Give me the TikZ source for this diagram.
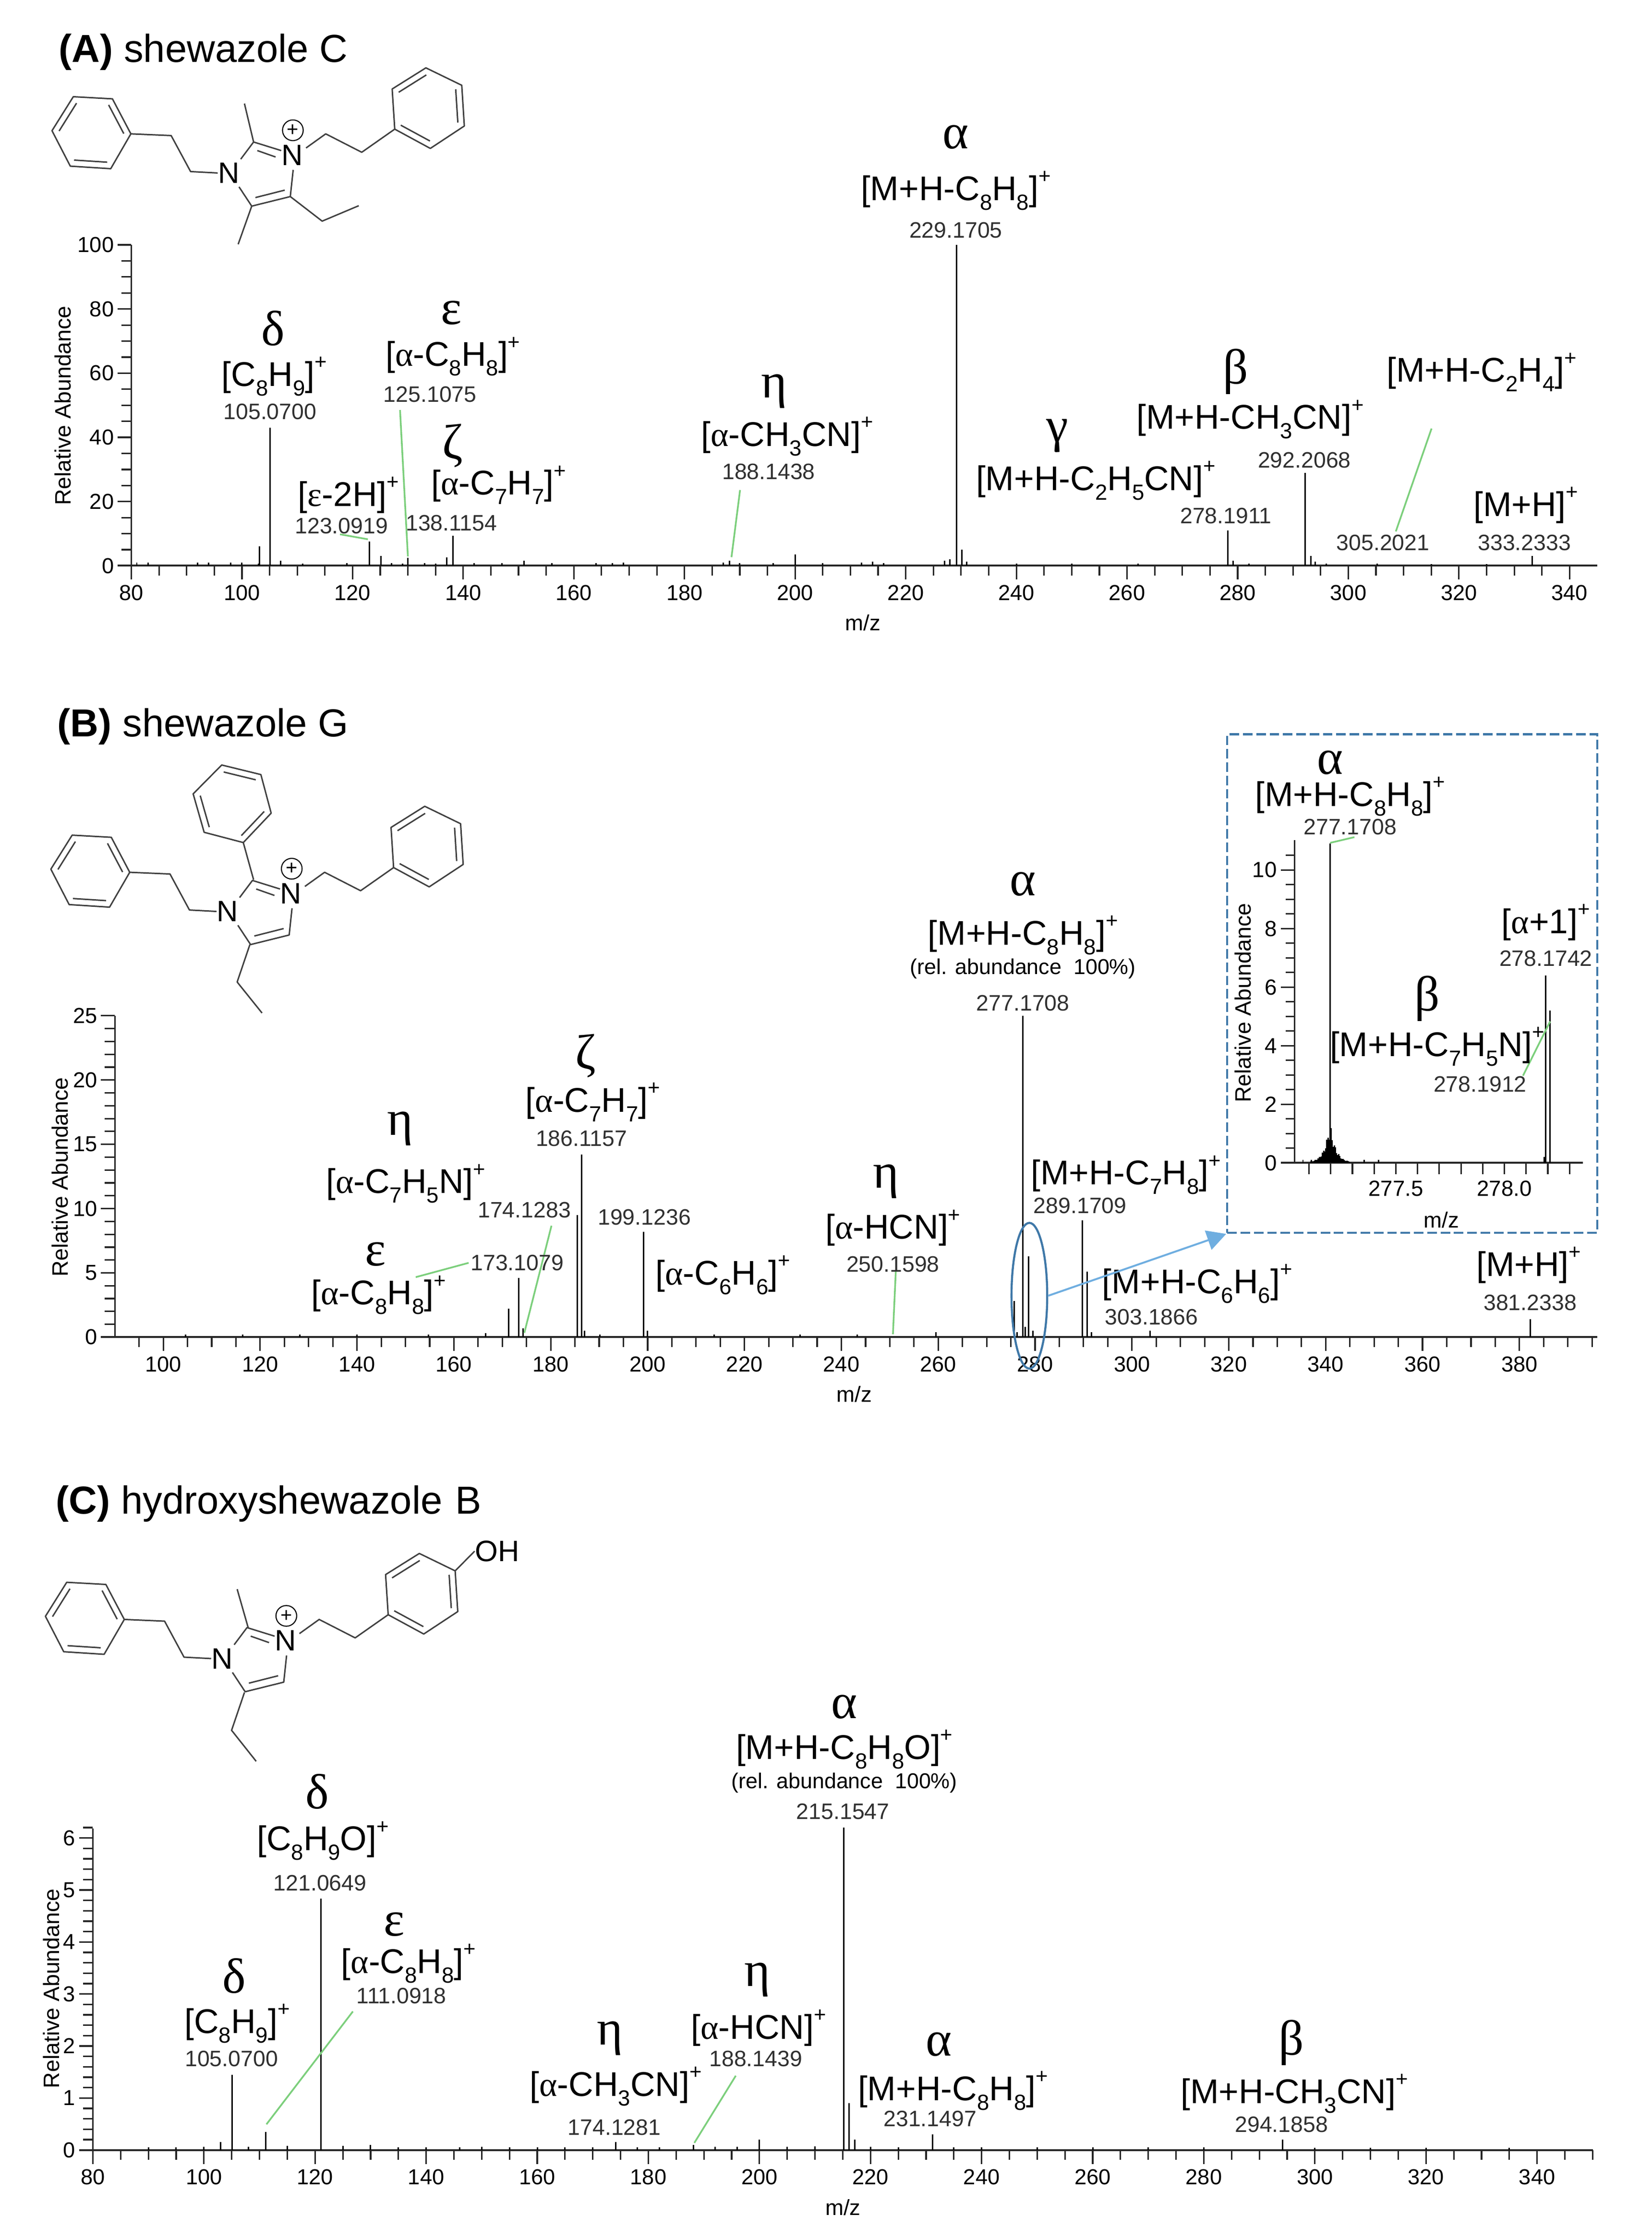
\documentclass[tikz,border=0pt]{standalone}
\usepackage{fontspec}
\setmainfont{Liberation Sans}
\newfontfamily\gkf{Liberation Serif}
\usetikzlibrary{arrows.meta,calc,shapes.geometric}
\definecolor{leadgreen}{HTML}{7CCF7C}
\definecolor{boxblue}{HTML}{3F78A8}
\definecolor{arrblue}{HTML}{6FAEE0}
\definecolor{molgrey}{HTML}{404040}
\definecolor{numgrey}{HTML}{303030}
\newcommand\dn[1]{\raisebox{-.28em}{\fontsize{11.5}{12}\selectfont #1}}
\newcommand\up[1]{\raisebox{.5em}{\fontsize{11}{12}\selectfont #1}}
\newcommand\gr[1]{{\gkf #1}}
\newcommand\px{\up{+}}
\tikzset{
  ion/.style={inner sep=0pt,yshift=-.4pt,font=\fontsize{18}{20}\selectfont,text=black},
  num/.style={inner sep=0pt,font=\fontsize{11.7}{12}\selectfont,text=numgrey},
  rel/.style={inner sep=0pt,font=\fontsize{11.3}{12}\selectfont,text=black},
  grk/.style={inner sep=0pt,yshift=-1.5pt,font=\gkf\fontsize{26}{27}\selectfont,text=black},
  tit/.style={inner sep=0pt,anchor=west,font=\fontsize{20.5}{22}\selectfont,text=black},
  tl/.style={inner sep=0pt,font=\fontsize{11.4}{12}\selectfont,text=black},
  axt/.style={inner sep=0pt,font=\fontsize{11.5}{12}\selectfont,text=black},
  ylab/.style={inner sep=0pt,rotate=90,font=\fontsize{11.7}{13}\selectfont,text=black},
  atom/.style={inner sep=0pt,font=\fontsize{15.5}{16}\selectfont,text=black},
  bond/.style={draw=molgrey,line width=.75pt,line join=round},
  axln/.style={draw=black!85,line width=.8pt},
  stem/.style={draw=black,line width=.75pt},
  leader/.style={draw=leadgreen,line width=.9pt},
}
% hexagon through six coordinates, inner double bonds on edges (1-2),(3-4),(5-6)
\newcommand\hexa[6]{%
  \draw[bond] #1 -- #2 -- #3 -- #4 -- #5 -- #6 -- cycle;
  \coordinate (hc) at ($#1!.5!#4$);
  \draw[bond] ($#1!.18!(hc)$) -- ($#2!.18!(hc)$);
  \draw[bond] ($#3!.18!(hc)$) -- ($#4!.18!(hc)$);
  \draw[bond] ($#5!.18!(hc)$) -- ($#6!.18!(hc)$);
}
% common part of the three molecules
\newcommand\core[1]{%
  \hexa{(48.7,115.7)}{(77,117.5)}{(91.1,93.1)}{(78.2,68.6)}{(50.8,67.1)}{(35.9,90.9)}
  \node[atom] (n1#1) at (159.6,120.5) {N};
  \node[atom] (n3#1) at (204,108) {N};
  \node[inner sep=0pt,draw=black,line width=.55pt,circle,minimum size=14.5*.75pt,font=\fontsize{10.5}{11}\selectfont] (pl#1) at (204.5,90.6) {+};
  \draw[bond] (91.1,93.1) -- (119.3,94.3) -- (132.9,119.5) -- (n1#1.west);
  \draw[bond] (168,110.8) -- (177,98.8) -- (196.3,104.8);
  \draw[bond] (179.6,104.8) -- (192.4,109.3);
  \draw[bond] (204.7,118.3) -- (202.7,137) -- (175.7,143.7) -- (166.8,130.2);
  \draw[bond] (198.8,132.5) -- (178.3,137.7);
  \draw[bond] (213.7,103) -- (227.5,93.1) -- (252.7,106) -- (275.8,89.8);
  \hexa{(275.8,89.8)}{(300.7,103.3)}{(324.5,87.6)}{(322.7,59.1)}{(297.6,46.9)}{(274,61.7)}
}
% A: x(m)=91.9+3.872(m-80)  y0=396 2.246/unit
\newcommand\xa[1]{{91.9+3.872*(#1-80)}}
\newcommand\xb[1]{{114.3+3.39*(#1-100)}}
\newcommand\xc[1]{{65+3.888*(#1-80)}}
\begin{document}
\begin{tikzpicture}[x=.75pt,y=-.75pt]
\useasboundingbox (0,0) rectangle (1156,1567.3);
\fill[white] (0,0) rectangle (1156,1567.3);

%%%%%%%%%%%%%% PANEL A
\node[tit] (ta) at (41,36.5) {\textbf{(A)} shewazole C};
\begin{scope}[shift={(.5,.6)}]
  \core{a}
  \draw[bond] (177,98.8) -- (170.6,71.9);
  \draw[bond] (175.7,143.7) -- (166.2,170.4);
  \draw[bond] (202.7,137) -- (225,154.2) -- (250.6,143.4);
\end{scope}
% axes
\draw[axln] (91.9,171.4) -- (91.9,396);
\draw[axln,line width=1pt] (82.2,396) -- (1118,396);
\foreach \v in {0,5,...,100} \draw[axln] (84.9,{396-2.246*\v}) -- (91.9,{396-2.246*\v});
\foreach \v in {0,20,...,100} {
  \draw[axln] (82.2,{396-2.246*\v}) -- (91.9,{396-2.246*\v});
  \node[tl,anchor=east] (ya\v) at (80,{396-2.246*\v}) {\v};
}
\foreach \m in {80,85,...,340} \draw[axln] (\xa{\m},396) -- (\xa{\m},403);
\foreach \m in {80,100,...,340} {
  \draw[axln] (\xa{\m},396) -- (\xa{\m},405.7);
  \node[tl] (xa\m) at (\xa{\m},415) {\m};
}
\node[ylab] (yta) at (44,284) {Relative Abundance};
\node[axt] (mza) at (604,436) {m/z};
% peaks
\foreach \m/\h in {229.17/100,105.07/43,103.2/6,123.09/7.6,138.11/9.4,137/2.6,230.17/5,278.19/11,292.2/29,293.2/3,200/3.5,228/2,333.23/3,305.2/.7,188.14/1.6,125.1/3,130/2.5,279.2/1.5,81/1,83/1,92/1,94/.9,98/1,100/.9,103/.7,107/1.6,111/.7,119/.8,127/.8,129/.7,133/.8,135/.6,142/.8,147/.8,151/1.5,156/.8,164/.8,167/.8,169/1,187/.9,190/.8,196/.8,205/.8,212/1,214/1.2,216/.8,227/1.5,231/1.2,240/.6,250/.6,262/.6,282/.7,294/1.2,296/.6,315/.5,325/.5}
  \draw[stem] (\xa{\m},396) -- (\xa{\m},{396-2.246*\h});
% leaders
\coordinate (ae1) at (280,287); \coordinate (ae2) at (285.5,389.5);
\coordinate (ab1) at (238,374); \coordinate (ab2) at (257.5,377.5);
\coordinate (ah1) at (518,343); \coordinate (ah2) at (512,390);
\coordinate (ag1) at (1002,300); \coordinate (ag2) at (977,372);
\draw[leader] (ae1) -- (ae2);
\draw[leader] (ab1) -- (ab2);
\draw[leader] (ah1) -- (ah2);
\draw[leader] (ag1) -- (ag2);
% labels
\node[grk] (a1) at (669,94) {α};
\node[ion] (a2) at (669,133) {[M+H-C\dn{8}H\dn{8}]\px};
\node[num] (a3) at (669,161) {229.1705};
\node[grk] (a4) at (191,228) {δ};
\node[ion] (a5) at (192,263) {[C\dn{8}H\dn{9}]\px};
\node[num] (a6) at (189,288) {105.0700};
\node[grk] (a7) at (316,217) {ε};
\node[ion] (a8) at (317,249) {[\gr{α}-C\dn{8}H\dn{8}]\px};
\node[num] (a9) at (301,276) {125.1075};
\node[grk] (a10) at (317,310) {ζ};
\node[ion] (a11) at (349,339) {[\gr{α}-C\dn{7}H\dn{7}]\px};
\node[num] (a12) at (316,366) {138.1154};
\node[ion] (a13) at (244,346) {[\gr{ε}-2H]\px};
\node[num] (a14) at (239,368) {123.0919};
\node[grk] (a15) at (542,272) {η};
\node[ion] (a16) at (551,305) {[\gr{α}-CH\dn{3}CN]\px};
\node[num] (a17) at (538,330) {188.1438};
\node[grk] (a18) at (740,303) {γ};
\node[ion] (a19) at (767,336) {[M+H-C\dn{2}H\dn{5}CN]\px};
\node[num] (a20) at (858,361) {278.1911};
\node[grk] (a21) at (865,258) {β};
\node[ion] (a22) at (875,293) {[M+H-CH\dn{3}CN]\px};
\node[num] (a23) at (913,322) {292.2068};
\node[ion] (a24) at (1037,260) {[M+H-C\dn{2}H\dn{4}]\px};
\node[num] (a25) at (968,380) {305.2021};
\node[ion] (a26) at (1068,353) {[M+H]\px};
\node[num] (a27) at (1067,380) {333.2333};

%%%%%%%%%%%%%% PANEL B
\node[tit] (tb) at (40,508.5) {\textbf{(B)} shewazole G};
\begin{scope}[shift={(-.3,517.5)}]
  \core{b}
\end{scope}
\begin{scope}[shift={(.5,2)}]
\draw[bond] (177,613.8) -- (169.8,587.8);
\hexa{(169.8,587.8)}{(189.3,567.2)}{(182.1,540.2)}{(154.7,533.5)}{(134.7,553.7)}{(142.4,580.6)}
\draw[bond] (174.4,659.2) -- (165.5,685.4) -- (182.9,707.1);
\end{scope}
% axes
\draw[axln] (80.4,711) -- (80.4,936);
\draw[axln,line width=1pt] (70.7,936) -- (1118,936);
\foreach \v in {0,...,25} \draw[axln] (73.4,{936-9*\v}) -- (80.4,{936-9*\v});
\foreach \v in {0,5,...,25} {
  \draw[axln] (70.7,{936-9*\v}) -- (80.4,{936-9*\v});
  \node[tl,anchor=east] (yb\v) at (68.5,{936-9*\v}) {\v};
}
\foreach \m in {95,100,...,395} \draw[axln] (\xb{\m},936) -- (\xb{\m},943);
\foreach \m in {100,120,...,380} {
  \draw[axln] (\xb{\m},936) -- (\xb{\m},945.7);
  \node[tl] (xb\m) at (\xb{\m},955) {\m};
}
\node[ylab] (ytb) at (42,824) {Relative Abundance};
\node[axt] (mzb) at (598,976) {m/z};
% peaks
\foreach \x/\h in {716/25,720/6.3,710/2.8,757.5/9.1,760.8/5.1,805/.5,1071/1.4,404/9.5,407/14.2,450.5/8.2,363/4.6,356/2.2,366/.7,409/.5,453/.5,712/.4,717.5/.8,723/.5,764/.4,130/.2,170/.2,210/.2,250/.2,300/.2,340/.3,420/.2,500/.2,560/.2,600/.2,655/.4}
  \draw[stem] (\x,936) -- (\x,{936-9*\h});
% leaders
\coordinate (be1) at (291,894); \coordinate (be2) at (328,884);
\coordinate (bz1) at (386,858); \coordinate (bz2) at (367,933);
\coordinate (bh1) at (627,890); \coordinate (bh2) at (625,934);
\draw[leader] (be1) -- (be2);
\draw[leader] (bz1) -- (bz2);
\draw[leader] (bh1) -- (bh2);
% labels
\node[grk] (b1) at (716,617) {α};
\node[ion] (b2) at (716,654) {[M+H-C\dn{8}H\dn{8}]\px};
\node[rel] (b3) at (716,678) {(rel. abundance\ \ 100\%)};
\node[num] (b4) at (716,702) {277.1708};
\node[grk] (b5) at (410,737) {ζ};
\node[ion] (b6) at (415,771) {[\gr{α}-C\dn{7}H\dn{7}]\px};
\node[num] (b7) at (407,797) {186.1157};
\node[grk] (b8) at (280,788) {η};
\node[ion] (b9) at (284,828) {[\gr{α}-C\dn{7}H\dn{5}N]\px};
\node[num] (b10) at (367,847) {174.1283};
\node[grk] (b11) at (263,876) {ε};
\node[ion] (b12) at (265,906) {[\gr{α}-C\dn{8}H\dn{8}]\px};
\node[num] (b13) at (362,884) {173.1079};
\node[num] (b14) at (451,852) {199.1236};
\node[ion] (b15) at (506,892) {[\gr{α}-C\dn{6}H\dn{6}]\px};
\node[grk] (b16) at (620,825) {η};
\node[ion] (b17) at (625,859) {[\gr{α}-HCN]\px};
\node[num] (b18) at (625,885) {250.1598};
\node[ion] (b19) at (788,822) {[M+H-C\dn{7}H\dn{8}]\px};
\node[num] (b20) at (756,844) {289.1709};
\node[ion] (b21) at (838,898) {[M+H-C\dn{6}H\dn{6}]\px};
\node[num] (b22) at (806,922) {303.1866};
\node[ion] (b23) at (1070,885) {[M+H]\px};
\node[num] (b24) at (1071,912) {381.2338};
% ellipse, inset box and arrow
\node[draw=boxblue,line width=1.1pt,ellipse,inner sep=0pt,minimum width=25*.75pt,minimum height=102*.75pt] (zoomell) at (720.5,907) {};
\node[draw=boxblue,line width=1.1pt,dash pattern=on 5pt off 2pt,inner sep=0pt,minimum width=259*.75pt,minimum height=349*.75pt] (insetbox) at (988.5,688.5) {};
\draw[draw=arrblue,line width=1pt,-{Triangle[length=10pt,width=10.5pt]}] (zoomell.east) -- (insetbox.south west);
% inset axes
\draw[axln] (906,588) -- (906,814);
\draw[axln,line width=1pt] (896.6,814) -- (1108,814);
\foreach \v in {0,.5,...,10.5} \draw[axln] (900,{814-20.5*\v}) -- (906,{814-20.5*\v});
\foreach \v in {0,2,...,10} {
  \draw[axln] (896.6,{814-20.5*\v}) -- (906,{814-20.5*\v});
  \node[tl,anchor=east,font=\fontsize{11.5}{12}\selectfont] (yi\v) at (894,{814-20.5*\v}) {\v};
}
\foreach \m in {277.1,277.2,...,278.35} \draw[axln] ({977+152*(\m-277.5)},814) -- ({977+152*(\m-277.5)},822);
\node[axt] (xi1) at (977,832) {277.5};
\node[axt] (xi2) at (1053,832) {278.0};
\node[axt] (mzi) at (1009,854) {m/z};
\node[ylab] (yti) at (870,702) {Relative Abundance};
\foreach \i in {-18,...,18} {
  \pgfmathsetmacro\hh{24.5*exp(-abs(\i)/5)*(1+.2*sin(\i*97))+.3}
  \fill[black] ({931+\i*.75-.5},814) rectangle ({931+\i*.75+.5},{814-\hh});
}
\foreach \x/\h in {931/10.9,1082/6.4,1085/5.2,1081/.2,912/.1,918/.1,955/.1,965/.1}
  \draw[stem] (\x,814) -- (\x,{814-20.5*\h});
\coordinate (il1) at (931,590); \coordinate (il2) at (948,586);
\coordinate (il3) at (1066,753); \coordinate (il4) at (1085,715);
\draw[leader] (il1) -- (il2);
\draw[leader] (il3) -- (il4);
\node[grk] (i1) at (931,532) {α};
\node[ion] (i2) at (945,557) {[M+H-C\dn{8}H\dn{8}]\px};
\node[num] (i3) at (945,579) {277.1708};
\node[ion] (i4) at (1082,645) {[\gr{α}+1]\px};
\node[num] (i5) at (1082,671) {278.1742};
\node[grk] (i6) at (999,697) {β};
\node[ion] (i7) at (1006,732) {[M+H-C\dn{7}H\dn{5}N]\px};
\node[num] (i8) at (1036,759) {278.1912};

%%%%%%%%%%%%%% PANEL C
\node[tit] (tc) at (39,1052.5) {\textbf{(C)} hydroxyshewazole\hspace{.33em}B};
\begin{scope}[shift={(-4.1,1040.5)}]
  \core{c}
\end{scope}
\begin{scope}[shift={(.5,2.8)}]
\draw[bond] (173.2,1136.5) -- (165.5,1109.6);
\draw[bond] (170.6,1181.9) -- (161.6,1208.4) -- (178.8,1230.1);
\node[atom] (oh) at (347.5,1083) {OH};
\draw[bond] (318.1,1096.8) -- (oh.west);
\end{scope}
% axes
\draw[axln] (65,1280) -- (65,1505);
\draw[axln,line width=1pt] (55.3,1505) -- (1115,1505);
\foreach \v in {0,.2,...,6.2} \draw[axln] (58,{1505-36.4*\v}) -- (65,{1505-36.4*\v});
\foreach \v in {0,...,6} {
  \draw[axln] (55.3,{1505-36.4*\v}) -- (65,{1505-36.4*\v});
  \node[tl,anchor=east] (yc\v) at (53,{1505-36.4*\v}) {\v};
}
\foreach \m in {80,85,...,350} \draw[axln] (\xc{\m},1505) -- (\xc{\m},1512);
\foreach \m in {80,100,...,340} {
  \draw[axln] (\xc{\m},1505) -- (\xc{\m},1514.7);
  \node[tl] (xc\m) at (\xc{\m},1524) {\m};
}
\node[ylab] (ytc) at (36,1392) {Relative Abundance};
\node[axt] (mzc) at (590,1545) {m/z};
% peaks
\foreach \m/\h in {215.15/6.2,121.06/4.83,105.07/1.45,216.15/.9,217.15/.2,111.09/.35,103/.15,130/.1,200/.2,231.15/.3,294.18/.2,174.13/.15,188.14/.1,90/.05,95/.05,100/.06,108/.06,115/.08,125/.08,135/.05,140/.05,146/.05,150/.06,155/.05,160/.05,165/.05,170/.05,178/.05,182/.05,192/.06,196/.06,205/.06,210/.07,220/.06,225/.05,235/.05,240/.05,250/.05,260/.05,270/.05,280/.05,300/.04,310/.04,320/.04,335/.04}
  \draw[stem] (\xc{\m},1505) -- (\xc{\m},{1505-36.4*\h});
% leaders
\coordinate (cl1) at (186.5,1487); \coordinate (cl2) at (247,1408);
\coordinate (cl3) at (486,1500); \coordinate (cl4) at (515,1453);
\draw[leader] (cl1) -- (cl2);
\draw[leader] (cl3) -- (cl4);
% labels
\node[grk] (c1) at (591,1193) {α};
\node[ion] (c2) at (591,1224) {[M+H-C\dn{8}H\dn{8}O]\px};
\node[rel] (c3) at (591,1248) {(rel. abundance\ \ 100\%)};
\node[num] (c4) at (590,1268) {215.1547};
\node[grk] (c5) at (222,1252) {δ};
\node[ion] (c6) at (226,1288) {[C\dn{8}H\dn{9}O]\px};
\node[num] (c7) at (224,1318) {121.0649};
\node[grk] (c8) at (276,1345) {ε};
\node[ion] (c9) at (286,1374) {[\gr{α}-C\dn{8}H\dn{8}]\px};
\node[num] (c10) at (281,1397) {111.0918};
\node[grk] (c11) at (164,1381) {δ};
\node[ion] (c12) at (166,1416) {[C\dn{8}H\dn{9}]\px};
\node[num] (c13) at (162,1441) {105.0700};
\node[grk] (c14) at (427,1425) {η};
\node[ion] (c15) at (431,1460) {[\gr{α}-CH\dn{3}CN]\px};
\node[num] (c16) at (430,1489) {174.1281};
\node[grk] (c17) at (530,1384) {η};
\node[ion] (c18) at (531,1419) {[\gr{α}-HCN]\px};
\node[num] (c19) at (529,1441) {188.1439};
\node[grk] (c20) at (657,1429) {α};
\node[ion] (c21) at (667,1463) {[M+H-C\dn{8}H\dn{8}]\px};
\node[num] (c22) at (651,1483) {231.1497};
\node[grk] (c23) at (904,1428) {β};
\node[ion] (c24) at (906,1465) {[M+H-CH\dn{3}CN]\px};
\node[num] (c25) at (897,1487) {294.1858};
\end{tikzpicture}
\end{document}
